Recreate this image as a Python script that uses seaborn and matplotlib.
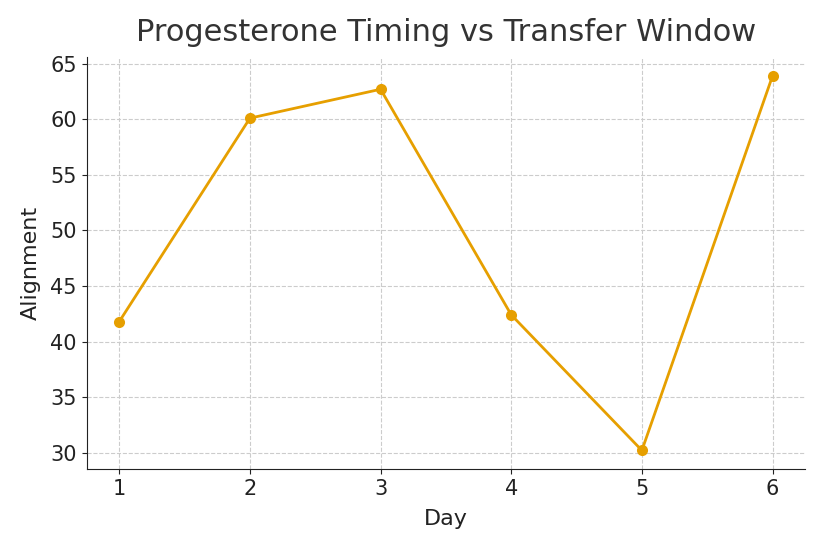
import matplotlib
matplotlib.use("Agg")
import matplotlib.pyplot as plt
import seaborn as sns
import pandas as pd

days = [1, 2, 3, 4, 5, 6]
alignment = [41.8, 60.1, 62.7, 42.4, 30.2, 63.9]

df = pd.DataFrame({"Day": days, "Alignment": alignment})

sns.set_style("ticks")
plt.rcParams['font.family'] = ['DejaVu Sans']

fig, ax = plt.subplots(figsize=(8.25, 5.5), dpi=100)
sns.lineplot(data=df, x="Day", y="Alignment", marker="o", color="#E69F00",
             linewidth=2, markersize=8, markeredgewidth=0, ax=ax)
ax.set_title("Progesterone Timing vs Transfer Window", fontsize=22,
             color="#333333", pad=12)
ax.set_xlabel("Day", fontsize=16, color="#222222", labelpad=7)
ax.set_ylabel("Alignment", fontsize=16, color="#222222", labelpad=7)
ax.tick_params(labelsize=15, colors="#222222")
ax.set_xticks(days)
ax.set_yticks(range(30, 66, 5))
ax.grid(True, linestyle="--", color="#cccccc", linewidth=0.8)
for s in ["left", "bottom"]:
    ax.spines[s].set_color("#222222")
sns.despine(ax=ax)
fig.subplots_adjust(left=0.105, right=0.976, top=0.896, bottom=0.147)
fig.savefig("out.png")
